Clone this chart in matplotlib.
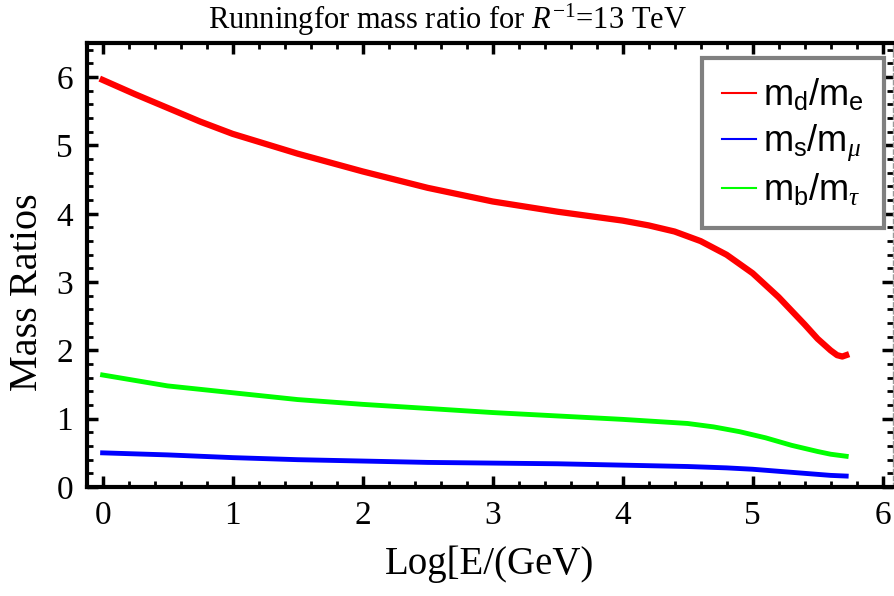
import numpy as np
import matplotlib
matplotlib.use("Agg")
import matplotlib.pyplot as plt
from matplotlib.ticker import MultipleLocator

# mathtext: serif for title, sans for the legend subscripts
plt.rcParams['mathtext.fontset'] = 'custom'
plt.rcParams['mathtext.rm'] = 'Liberation Serif'
plt.rcParams['mathtext.it'] = 'Liberation Serif:italic'
plt.rcParams['mathtext.sf'] = 'Liberation Sans'

# Running of the mass ratios
x_md_me = [0, 0.25, 0.5, 0.75, 1.0, 1.5, 2.0, 2.5, 3.0, 3.5, 4.0, 4.2,
           4.4, 4.6, 4.8, 5.0, 5.2, 5.4, 5.5, 5.6, 5.65, 5.69, 5.72]
md_me = [5.96, 5.75, 5.55, 5.35, 5.17, 4.88, 4.62, 4.38, 4.18, 4.03, 3.90,
         3.83, 3.74, 3.60, 3.40, 3.13, 2.78, 2.38, 2.17, 2.00, 1.93, 1.91,
         1.93]

x_ms_mmu = [0, 0.5, 1.0, 1.5, 2.0, 2.5, 3.0, 3.5, 4.0, 4.5, 4.8, 5.0,
            5.2, 5.4, 5.6, 5.72]
ms_mmu = [0.50, 0.47, 0.43, 0.40, 0.38, 0.36, 0.35, 0.34, 0.32, 0.30,
          0.28, 0.26, 0.23, 0.20, 0.17, 0.16]

x_mb_mtau = [0, 0.5, 1.0, 1.5, 2.0, 2.5, 3.0, 3.5, 4.0, 4.5, 4.7, 4.9,
             5.1, 5.3, 5.5, 5.6, 5.72]
mb_mtau = [1.64, 1.48, 1.38, 1.28, 1.21, 1.15, 1.09, 1.04, 0.99, 0.93,
           0.88, 0.81, 0.72, 0.61, 0.52, 0.48, 0.45]

labels = [r'm$_\mathsf{d}$/m$_\mathsf{e}$',
          r'm$_\mathsf{s}$/m$_\mu$',
          r'm$_\mathsf{b}$/m$_\tau$']

fig = plt.figure(figsize=(8.94, 5.96), dpi=100)
ax = fig.add_axes([87/894, 1 - 487/596, (893 - 87)/894, (487 - 43)/596])

ax.plot(x_md_me, md_me, color='#ff0000', lw=4.5, label=labels[0])
ax.plot(x_ms_mmu, ms_mmu, color='#0000ff', lw=3.5, label=labels[1])
ax.plot(x_mb_mtau, mb_mtau, color='#00ff00', lw=3.5, label=labels[2])

ax.set_xlim(-0.12, 6.08)
ax.set_ylim(0, 6.5)

ax.xaxis.set_major_locator(MultipleLocator(1))
ax.xaxis.set_minor_locator(MultipleLocator(0.2))
ax.yaxis.set_major_locator(MultipleLocator(1))
ax.yaxis.set_minor_locator(MultipleLocator(0.2))
ax.tick_params(which='both', direction='in', top=True, right=True,
               color='black')
ax.tick_params(which='major', length=8, width=2.5, labelsize=24, pad=10)
ax.tick_params(which='minor', length=4.5, width=2)
for lab in ax.get_xticklabels() + ax.get_yticklabels():
    lab.set_fontfamily('Liberation Serif')

for side in ['left', 'bottom', 'top']:
    ax.spines[side].set_linewidth(3)
ax.spines['right'].set_linewidth(1)
ax.spines['right'].set_color('#999999')
ax.spines['right'].set_linestyle((0, (3, 2)))

ax.set_xlabel('Log[E/(GeV)', fontsize=28, family='Liberation Serif',
              labelpad=10)
ax.set_ylabel('Mass Ratios', fontsize=29, family='Liberation Serif')
ax.yaxis.set_label_coords(-0.051, 0.44)
fig.text(0.5, 1 - 20/596, r'Runningfor mass ratio for $R^{-1}$=13 TeV',
         ha='center', va='center', fontsize=22, family='Liberation Serif')

leg = ax.legend(loc='upper right', bbox_to_anchor=(884/894, 1 - 58/596),
                bbox_transform=fig.transFigure, borderaxespad=0,
                prop={'family': 'Liberation Sans', 'size': 26},
                handlelength=0.95, handletextpad=0.2, labelspacing=0.25,
                borderpad=0.55, fancybox=False, framealpha=1)
leg.get_frame().set_edgecolor('#808080')
leg.get_frame().set_linewidth(3)
for h in leg.get_lines():
    h.set_linewidth(1.5)

fig.savefig('out.png', dpi=100)
